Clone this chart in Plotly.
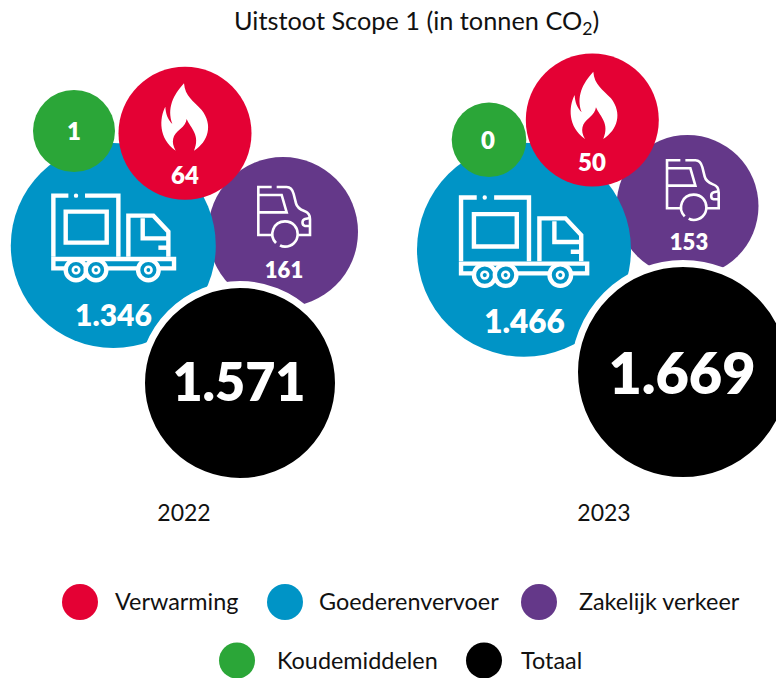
import plotly.graph_objects as go

# ---------- data ----------
years = ["2022", "2023"]
verwarming = [64, 50]
goederenvervoer = [1346, 1466]
zakelijk_verkeer = [161, 153]
koudemiddelen = [1, 0]
totaal = [1571, 1669]
legend_names = ["Verwarming", "Goederenvervoer", "Zakelijk verkeer", "Koudemiddelen", "Totaal"]

# ---------- layout / style (pixel space) ----------
RED, BLUE, PURPLE, GREEN, BLACK = "#E40134", "#0094C6", "#643889", "#2BA638", "#000000"
LABEL_FONT = "Lato"
TITLE_FONT = "Lato"


def dutch(v):
    return f"{v:,}".replace(",", ".")


series = [
    # values, colour, bubble cx, cy, diameter, label x, y, size
    (zakelijk_verkeer, PURPLE, [283, 687.5], [232, 206], [150, 142], [284, 689], [272, 244], [22, 22]),
    (goederenvervoer, BLUE, [113.3, 524], [245.5, 249.7], [205, 214], [113.5, 524.5], [318.5, 325.5], [30, 31.5]),
    (koudemiddelen, GREEN, [74, 489], [131, 139.7], [82, 74.6], [74, 488], [134, 143], [24, 24]),
    (verwarming, RED, [185, 592.3], [133.3, 120], [133, 133], [185, 592], [178, 165], [24, 24]),
]

fig = go.Figure()
for vals, col, cx, cy, d, lx, ly, ls in series:
    fig.add_trace(go.Scatter(x=cx, y=cy, mode="markers", showlegend=False, hoverinfo="skip",
                             marker=dict(size=d, color=col, line=dict(width=0), opacity=1)))

# total bubbles with white ring
fig.add_trace(go.Scatter(x=[240, 683], y=[383, 372], mode="markers", showlegend=False, hoverinfo="skip",
                         marker=dict(size=[197, 217], color=BLACK, line=dict(width=7, color="white"), opacity=1)))

for vals, col, cx, cy, d, lx, ly, ls in series:
    fig.add_trace(go.Scatter(x=lx, y=ly, mode="text", text=[dutch(v) for v in vals], showlegend=False,
                             hoverinfo="skip", textposition="middle center",
                             textfont=dict(family=LABEL_FONT, size=ls, color="white", weight=800)))
fig.add_trace(go.Scatter(x=[239, 682], y=[388, 379.5], mode="text", text=[dutch(v) for v in totaal], showlegend=False,
                         hoverinfo="skip", textposition="middle center",
                         textfont=dict(family=LABEL_FONT, size=[52, 57.5], color="white", weight=800)))

# year labels
fig.add_trace(go.Scatter(x=[184, 604], y=[515, 515], mode="text", text=years, showlegend=False, hoverinfo="skip",
                         textposition="middle center", textfont=dict(family=TITLE_FONT, size=23, color="#111111")))

# legend swatches
leg_cols = [RED, BLUE, PURPLE, GREEN, BLACK]
leg_x = [80, 285, 539, 237, 484]
leg_y = [602, 602, 602, 660.5, 660.5]
leg_tx = [113, 317, 577, 275, 519]
fig.add_trace(go.Scatter(x=leg_x, y=leg_y, mode="markers", showlegend=False, hoverinfo="skip",
                         marker=dict(size=36, color=leg_cols, line=dict(width=0), opacity=1)))
annotations = [dict(x=tx, y=ty - 1, xref="x", yref="y", text=n, showarrow=False, xanchor="left", yanchor="middle",
                    font=dict(family=LABEL_FONT, size=23.4, color="#111111"))
               for tx, ty, n in zip(leg_tx, leg_y, legend_names)]
annotations.append(dict(x=416, y=22, xref="x", yref="y", text="Uitstoot Scope 1 (in tonnen CO<sub>2</sub>)",
                        showarrow=False, xanchor="center", yanchor="middle",
                        font=dict(family=TITLE_FONT, size=25.3, color="#111111")))

# ---------- icons (local drawing units = 1/3 px) ----------
FLAME = ("M552 70 C520 105 500 145 517 192 C503 178 497 160 496 140 C478 175 475 235 527 272 "
         "C512 245 518 225 540 208 C553 198 558 188 560 177 C572 205 602 225 582 272 "
         "C625 245 640 195 605 150 C580 122 555 110 552 70 Z")
TRUCK_LINES = [
    "M205 407 L160 407 L160 590", "M255 407 L355 407 L355 590",
    "M197 455 L320 455 L320 548 L197 548 Z",
    "M160 597 L522 597 L522 625 L160 625 Z",
    "M385 590 L385 467 L460 467 L505 515 L505 590",
    "M428 475 L428 535 L505 535", "M475 563 L505 563",
]
TRUCK_WHEELS = [(228, 630), (288, 630), (445, 630)]
CAR_LINES = [
    "M815 381 L775 381 L775 525 L815 525",
    "M830 381 L860 381 C872 381 878 390 881 402 L888 430 C892 446 905 450 915 454 C926 458 930 466 930 478 L930 525 L895 525",
    "M775 405 L845 405 L860 457 L775 457",
    "M930 474 L915 477 C905 480 905 496 915 498 L930 498",
    "M828 549 C805 525 820 484 855 484 C880 484 893 503 893 522 C893 545 875 560 855 560 C850 560 845 559 840 556",
]


def tx_path(path, ox, oy, k=1.0, lx=0, ly=0):
    out, is_x = [], True
    for t in path.split():
        if t[0].isalpha():
            cmd, val = t[0], t[1:]
            if cmd == "Z":
                out.append("Z")
                continue
            out.append(cmd)
            is_x = True
        else:
            val = t
        v = float(val)
        c = ox + (v - lx) * k / 3 if is_x else oy + (v - ly) * k / 3
        out.append(f"{c:.2f}")
        is_x = not is_x
    return " ".join(out)


shapes = []
# flames
for ox, oy in [(0, 60), (409.3, 48.33)]:
    shapes.append(dict(type="path", path=tx_path(FLAME, ox, oy), fillcolor="white", line=dict(width=0), layer="above"))
# trucks
for ox, oy, k, lx, ly in [(51.7, 194, 1.0, 155, 402), (459.3, 195.7, 1.045, 155, 402)]:
    for p in TRUCK_LINES:
        shapes.append(dict(type="path", path=tx_path(p, ox, oy, k, lx, ly),
                           line=dict(color="white", width=4.4), layer="above"))
    for wx, wy in TRUCK_WHEELS:
        cx = ox + (wx - lx) * k / 3
        cy = oy + (wy - ly) * k / 3
        r1, r2 = 10.3 * k, 3.2 * k
        shapes.append(dict(type="circle", x0=cx - r1, x1=cx + r1, y0=cy - r1, y1=cy + r1,
                           fillcolor=BLUE, line=dict(color="white", width=4.4), layer="above"))
        shapes.append(dict(type="circle", x0=cx - r2, x1=cx + r2, y0=cy - r2, y1=cy + r2,
                           fillcolor=BLUE, line=dict(color="white", width=2.6), layer="above"))
    dx = ox + (228 - lx) * k / 3
    dy = oy + (407 - ly) * k / 3
    shapes.append(dict(type="circle", x0=dx - 2.2, x1=dx + 2.2, y0=dy - 2.2, y1=dy + 2.2, fillcolor="white",
                       line=dict(width=0), layer="above"))
# cars
for ox, oy in [(0, 60), (408.7, 33.3)]:
    for p in CAR_LINES:
        shapes.append(dict(type="path", path=tx_path(p, ox, oy), line=dict(color="white", width=2.6), layer="above"))

fig.update_layout(
    width=776, height=678, margin=dict(l=0, r=0, t=0, b=0), autosize=False,
    paper_bgcolor="white", plot_bgcolor="white", showlegend=False,
    xaxis=dict(range=[0, 776], visible=False, fixedrange=True),
    yaxis=dict(range=[678, 0], visible=False, fixedrange=True),
    annotations=annotations, shapes=shapes,
)
fig.write_html("out.html", post_script="document.body.style.margin='0';document.body.style.overflow='hidden';",
               config={"displayModeBar": False})
